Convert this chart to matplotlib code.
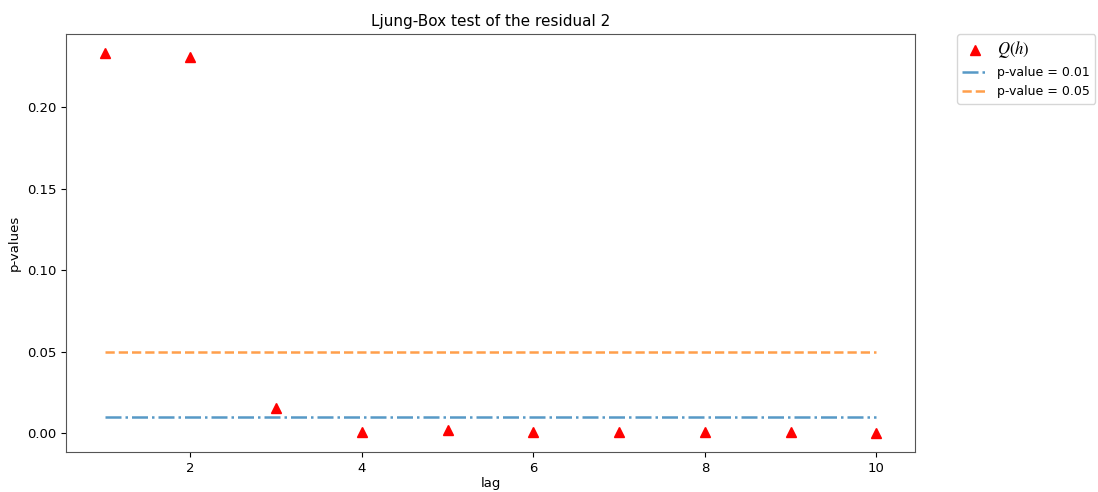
import matplotlib
matplotlib.use("Agg")
import matplotlib.pyplot as plt

lags = [1, 2, 3, 4, 5, 6, 7, 8, 9, 10]
p_values = [0.2333, 0.2310, 0.0154, 0.0012, 0.0024, 0.0011, 0.0011, 0.0011, 0.0011, 0.0003]
thresh_01 = 0.01
thresh_05 = 0.05

plt.rcParams['mathtext.fontset'] = 'stix'
fig = plt.figure(figsize=(10.98, 4.92), dpi=100)
ax = fig.add_axes([66/1098, 1 - 452/492, (915-66)/1098, (452-34)/492])
ax.plot(lags, p_values, '^', color='red', markersize=6.5, label='$Q(h)$')
ax.plot([lags[0], lags[-1]], [thresh_01, thresh_01], '-.', color='#1f77b4', lw=1.8, alpha=0.75, label='p-value = 0.01')
ax.plot([lags[0], lags[-1]], [thresh_05, thresh_05], '--', color='#ff7f0e', lw=1.8, alpha=0.75, label='p-value = 0.05')
ax.set_title('Ljung-Box test of the residual 2', fontsize=11)
ax.set_xlabel('lag', fontsize=9.5, labelpad=2)
ax.set_ylabel('p-values', fontsize=9.5)
ax.tick_params(labelsize=9.5)
for s in ax.spines.values():
    s.set_color('#555555')
leg = ax.legend(bbox_to_anchor=(1.05, 1), loc=2, borderaxespad=0., fontsize=9)
leg.get_texts()[0].set_fontsize(12)
fig.savefig('out.png', dpi=100)
